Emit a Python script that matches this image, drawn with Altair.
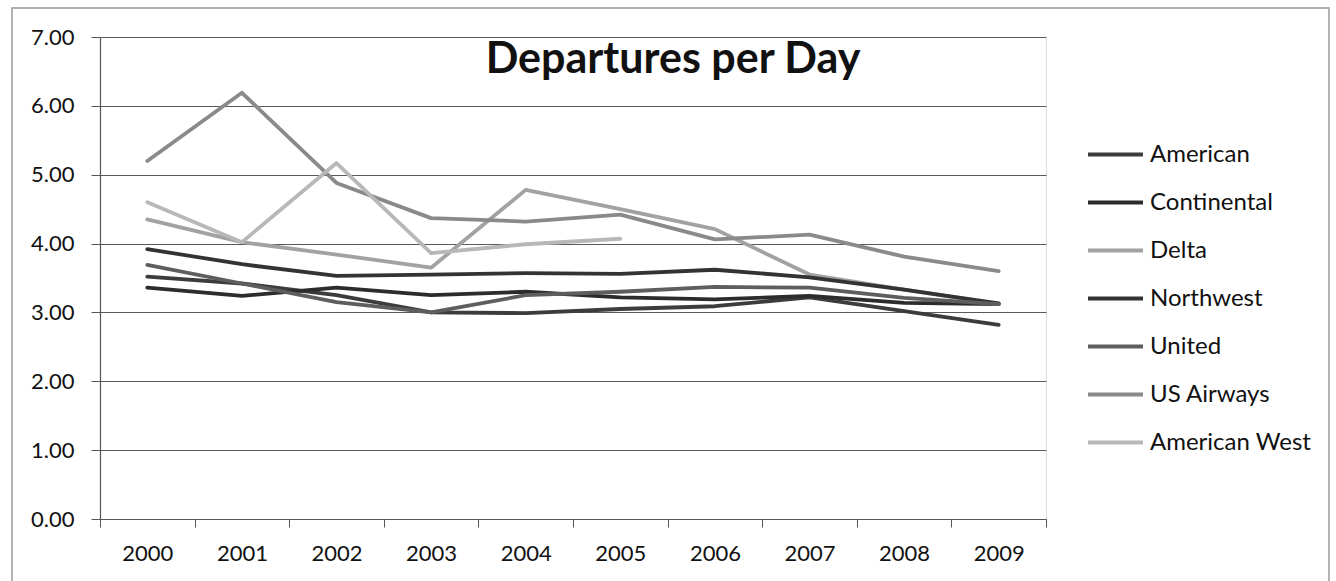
import altair as alt
import pandas as pd

years = [2000, 2001, 2002, 2003, 2004, 2005, 2006, 2007, 2008, 2009]
airlines = ["American", "Continental", "Delta", "Northwest", "United", "US Airways", "American West"]

american = [3.52, 3.42, 3.25, 3.00, 2.99, 3.05, 3.09, 3.22, 3.02, 2.82]
continental = [3.36, 3.24, 3.36, 3.25, 3.30, 3.22, 3.19, 3.24, 3.14, 3.12]
delta = [4.35, 4.02, 3.84, 3.65, 4.78, 4.50, 4.21, 3.55, 3.33, 3.12]
northwest = [3.92, 3.70, 3.53, 3.55, 3.57, 3.56, 3.62, 3.51, 3.33, 3.13]
united = [3.69, 3.42, 3.15, 3.00, 3.25, 3.30, 3.37, 3.36, 3.21, 3.12]
us_airways = [5.20, 6.19, 4.88, 4.37, 4.32, 4.42, 4.06, 4.13, 3.81, 3.60]
american_west = [4.60, 4.02, 5.17, 3.86, 3.99, 4.07, None, None, None, None]

y_ticks = [0, 1, 2, 3, 4, 5, 6, 7]
colors = ["#3c3c3c", "#2c2c2c", "#a2a2a2", "#333333", "#5e5e5e", "#8a8a8a", "#b8b8b8"]
title_text = ["Departures per Day"]

series = [american, continental, delta, northwest, united, us_airways, american_west]
rows = []
for name, vals in zip(airlines, series):
    for yr, v in zip(years, vals):
        if v is not None:
            rows.append({"year": str(yr), "airline": name, "value": v})
df = pd.DataFrame(rows)

FONT = "Lato"

lines = alt.Chart(df).mark_line(strokeWidth=3.8, strokeCap="round", strokeJoin="round").encode(
    x=alt.X(
        "year:O",
        bandPosition=0.5,
        scale=alt.Scale(type="band", paddingInner=0, paddingOuter=0),
        axis=alt.Axis(
            title=None, labelAngle=0, tickBand="extent", grid=False,
            domainColor="#555555", tickColor="#555555", tickSize=8, domainWidth=1.2,
            labelFont=FONT, labelFontSize=22, labelColor="#111111", labelPadding=16,
        ),
    ),
    y=alt.Y(
        "value:Q",
        scale=alt.Scale(domain=[0, 7], nice=False, zero=True),
        axis=alt.Axis(
            title=None, values=y_ticks, format=".2f", grid=True,
            gridColor="#5a5a5a", gridWidth=1.1, domainColor="#555555", domainWidth=1.2,
            tickColor="#555555", tickSize=9, labelPadding=17,
            labelFont=FONT, labelFontSize=22, labelColor="#111111",
        ),
    ),
    color=alt.Color(
        "airline:N",
        sort=airlines,
        scale=alt.Scale(domain=airlines, range=colors),
        legend=alt.Legend(
            title=None, orient="none", legendX=986, legendY=88,
            symbolType="stroke", symbolSize=3025, symbolStrokeWidth=4,
            labelFont=FONT, labelFontSize=24, labelColor="#111111",
            labelOffset=5, rowPadding=6, labelLimit=400,
        ),
    ),
    detail="airline:N",
)

frame = alt.Chart(pd.DataFrame({"f": [0]})).mark_rect(
    fillOpacity=0, stroke="#9a9a9a", strokeWidth=1.5
).encode(
    x=alt.value(-88), x2=alt.value(1229), y=alt.value(-29), y2=alt.value(570)
)

title = alt.Chart(pd.DataFrame({"t": title_text})).mark_text(
    font=FONT, fontSize=43, fontWeight="bold", color="#111111",
    align="center", baseline="alphabetic",
).encode(
    text="t:N", x=alt.value(573), y=alt.value(36)
)

chart = alt.layer(frame, lines, title).properties(
    width=946,
    height=482,
    padding={"left": 100, "top": 37, "right": 290, "bottom": 62},
    autosize=alt.AutoSizeParams(type="none"),
).configure_view(stroke=None).configure(background="white")

chart.save("out.html", embed_options={"renderer": "svg", "actions": False})
